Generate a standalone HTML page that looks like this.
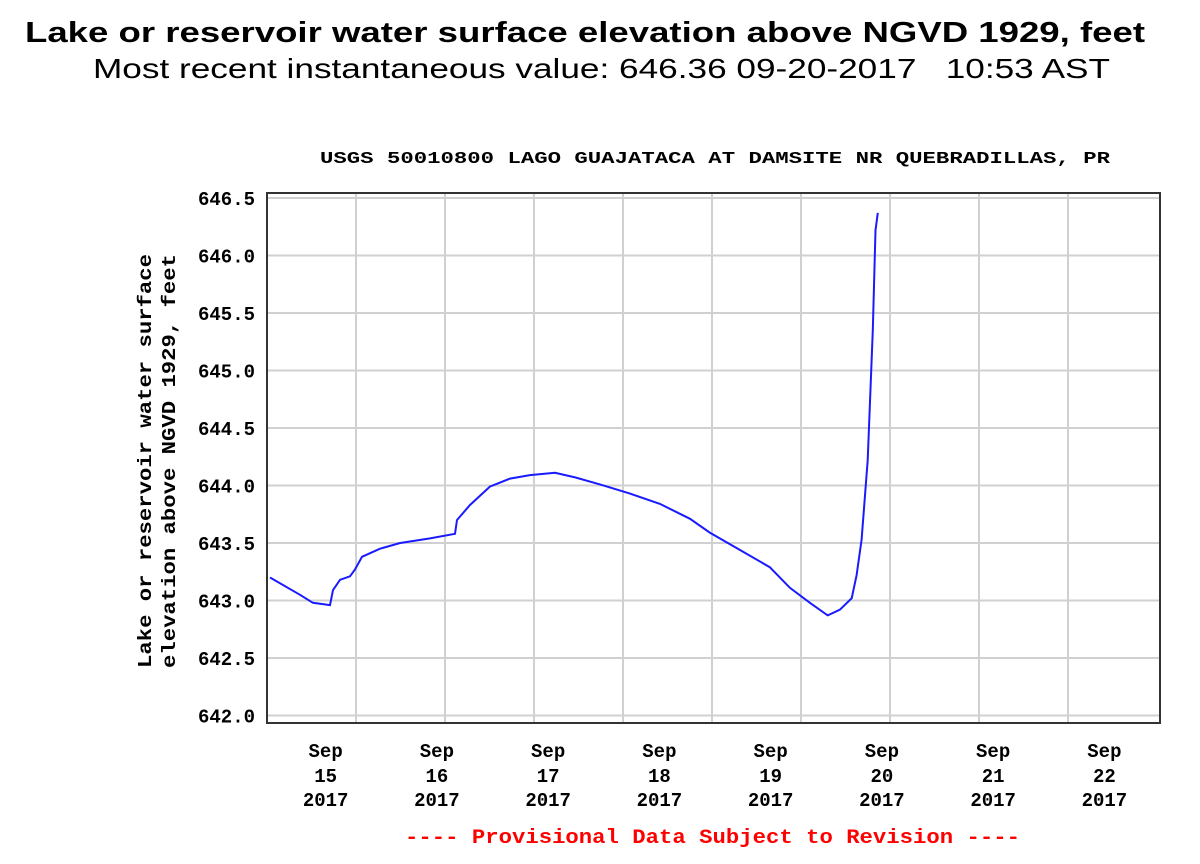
<!DOCTYPE html>
<html><head><meta charset="utf-8"><style>
body{margin:0;background:#fff;width:1200px;height:864px;overflow:hidden}
svg{display:block}
.h1{font-family:"Liberation Sans",sans-serif;font-weight:bold;font-size:29px}
.h2{font-family:"Liberation Sans",sans-serif;font-size:28px}
.m{font-family:"Liberation Mono",monospace;font-weight:bold}
</style></head><body>
<svg id="chart" width="1200" height="864">
<text class="h1" x="25" y="42" textLength="1120" lengthAdjust="spacingAndGlyphs">Lake or reservoir water surface elevation above NGVD 1929, feet</text>
<text class="h2" x="93" y="78" textLength="1017" lengthAdjust="spacingAndGlyphs">Most recent instantaneous value: 646.36 09-20-2017 &#160;&#160;10:53 AST</text>
<text class="m" x="320" y="163" font-size="17" textLength="790" lengthAdjust="spacingAndGlyphs">USGS 50010800 LAGO GUAJATACA AT DAMSITE NR QUEBRADILLAS, PR</text>
<g transform="translate(151,461) rotate(-90)">
<text class="m" x="-207" y="0" font-size="19" textLength="414" lengthAdjust="spacingAndGlyphs">Lake or reservoir water surface</text>
<text class="m" x="-207" y="24" font-size="19" textLength="414" lengthAdjust="spacingAndGlyphs">elevation above NGVD 1929, feet</text>
</g>
<g id="grid"></g><g id="yt"></g><g id="xt"></g>
<rect x="267" y="193" width="893" height="530" fill="none" stroke="#333" stroke-width="2"/>
<path id="line" fill="none" stroke="#1a1aff" stroke-width="2"/>
<text class="m" x="405" y="843" font-size="20" fill="#f00" textLength="615" lengthAdjust="spacingAndGlyphs">---- Provisional Data Subject to Revision ----</text>
</svg>
<script>
const days=[14.527,14.797,14.913,15.066,15.093,15.156,15.246,15.291,15.354,15.516,15.696,15.965,16.19,16.208,16.325,16.504,16.684,16.864,17.089,17.269,17.493,17.763,18.033,18.302,18.48,18.75,19.02,19.2,19.38,19.54,19.65,19.756,19.80,19.845,19.90,19.945,19.97,19.99];
const elev=[643.2,643.05,642.98,642.96,643.09,643.18,643.21,643.27,643.38,643.45,643.5,643.54,643.58,643.7,643.83,643.99,644.06,644.09,644.11,644.07,644.01,643.93,643.84,643.71,643.59,643.44,643.29,643.11,642.98,642.87,642.92,643.02,643.22,643.53,644.22,645.35,646.22,646.37];
const yTicks=[642.0,642.5,643.0,643.5,644.0,644.5,645.0,645.5,646.0,646.5];
const xTickDays=[15,16,17,18,19,20,21,22];
const xTickLabels=["15","16","17","18","19","20","21","22"];
const X=d=>267+(d-14.5)*111.25;
const Y=v=>198+(646.5-v)*115;
const NS="http://www.w3.org/2000/svg";
function mk(t,a,p){const e=document.createElementNS(NS,t);for(const k in a)e.setAttribute(k,a[k]);p.appendChild(e);return e;}
const grid=document.getElementById('grid'),yt=document.getElementById('yt'),xt=document.getElementById('xt');
for(let i=1;i<10;i++){const gx=267+i*89;const l=mk('line',{x1:gx,x2:gx,y1:193,y2:723,stroke:'#d0d0d0','stroke-width':2},grid);

}
yTicks.forEach(v=>{const l=mk('line',{x1:267,x2:1160,y1:Y(v),y2:Y(v),stroke:'#d0d0d0','stroke-width':2},grid);


const t=mk('text',{x:255,y:Y(v)+7,'text-anchor':'end','font-size':19,class:'m'},yt);t.textContent=v.toFixed(1);

});
xTickDays.forEach((d,i)=>{const cx=X(d)+3;const g=mk('text',{x:cx,'text-anchor':'middle','font-size':19,class:'m'},xt);


[["Sep",757],[xTickLabels[i],782],["2017",806]].forEach(([s,y])=>{const ts=mk('tspan',{x:cx,y:y},g);ts.textContent=s;});});
document.getElementById('line').setAttribute('d',days.map((d,i)=>(i?'L':'M')+X(d).toFixed(1)+' '+Y(elev[i]).toFixed(1)).join(' '));
</script>
</body></html>
